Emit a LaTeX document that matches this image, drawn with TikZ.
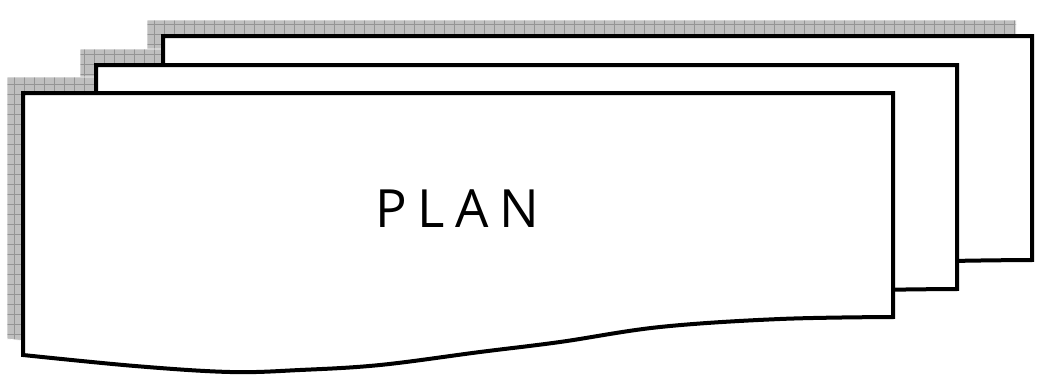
\documentclass[tikz,border=0pt]{standalone}
\usepackage{fontspec}
\newfontfamily\planfont{Open Sans}
\usepackage{tikz}
\usetikzlibrary{positioning}
\newcommand{\docpath}[3]{(#1,#2) -- (#3,#2) -- plot[smooth, tension=0.6] coordinates {
    (#3,{#2+224}) ({#3-113},{#2+226}) ({#3-233},{#2+234}) ({#3-333},{#2+249})
    ({#3-413},{#2+259}) ({#3-513},{#2+272}) ({#3-593},{#2+277})
    ({#1+207},{#2+279}) ({#1+112},{#2+273}) (#1,{#2+262})} -- cycle}

\begin{document}
\begin{tikzpicture}[
  x=0.2mm, y=-0.2mm,
  docpage/.style={draw=black, fill=white, line width=0.8mm, line join=miter},
  shadowfill/.style={fill=black!25},
  shadowgrid/.style={draw=black!42, line width=0.4pt, step=2mm},
  shadowedge/.style={draw=white, line width=0.4pt},
  planlabel/.style={font=\planfont\fontsize{30}{36}\selectfont, inner sep=0pt},
]
\useasboundingbox (0,0) rectangle (1040,383);
\foreach \l/\t/\r in {163/36/1032, 96/65/957, 23/93/893}{
  \begin{scope}[shift={(-16,-16)}]
    \fill[shadowfill] \docpath{\l}{\t}{\r};
    \begin{scope}
      \clip \docpath{\l}{\t}{\r};
      \draw[shadowgrid] (-100,-100) grid (1200,500);
    \end{scope}
    \draw[shadowedge] \docpath{\l}{\t}{\r};
  \end{scope}
}
\foreach \l/\t/\r in {163/36/1032, 96/65/957, 23/93/893}{
  \filldraw[docpage] \docpath{\l}{\t}{\r};
}
\coordinate (plancenter) at (457,209);
\node[planlabel] (plan) at (plancenter) {P\hspace{6pt}L\hspace{6pt}A\hspace{6pt}N};
\end{tikzpicture}
\end{document}
